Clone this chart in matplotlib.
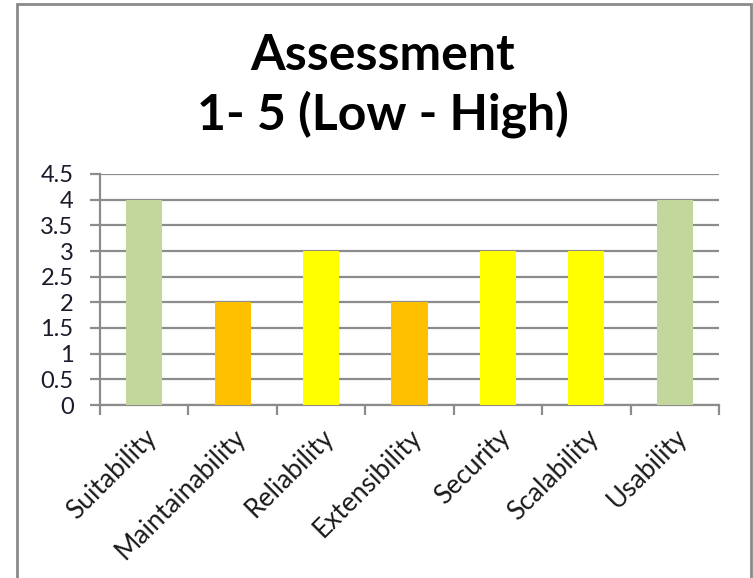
import numpy as np
import matplotlib.pyplot as plt
from matplotlib.patches import Rectangle

categories = ["Suitability", "Maintainability", "Reliability", "Extensibility",
              "Security", "Scalability", "Usability"]
scores = [4, 2, 3, 2, 3, 3, 4]
colors = ["#C3D69B", "#FFC000", "#FFFF00", "#FFC000", "#FFFF00", "#FFFF00", "#C3D69B"]
yticks = [0, 0.5, 1, 1.5, 2, 2.5, 3, 3.5, 4, 4.5]

plt.rcParams['font.family'] = ['Lato', 'DejaVu Sans']
grid_c = "#8c8c8c"

fig = plt.figure(figsize=(7.53, 5.78), dpi=100)
ax = fig.add_axes([100/753, 173/578, 619/753, 231/578])

x = np.arange(len(categories))
ax.bar(x, scores, width=0.41, color=colors, zorder=3)

ax.set_xlim(-0.5, len(categories) - 0.5)
ax.set_ylim(0, 4.5)
ax.set_yticks(yticks)
ax.set_yticklabels([f"{v:g}" for v in yticks], fontsize=17, color="#1a1a2a")
ax.yaxis.grid(True, color=grid_c, lw=1.6, zorder=0)
ax.tick_params(axis='y', length=7, width=1.6, color=grid_c, pad=12)

ax.set_xticks(x)
ax.set_xticklabels(categories, rotation=45, ha='right', rotation_mode='anchor',
                   fontsize=19, color="#1a1a1a")
ax.tick_params(axis='x', which='major', length=0, pad=14)
ax.set_xticks(np.arange(len(categories) + 1) - 0.5, minor=True)
ax.tick_params(axis='x', which='minor', length=7, width=1.6, color=grid_c)

for s in ["top", "right"]:
    ax.spines[s].set_visible(False)
for s in ["left", "bottom"]:
    ax.spines[s].set_color(grid_c)
    ax.spines[s].set_linewidth(1.6)

fig.text(383/753, 1 - 55/578, "Assessment", ha='center', va='center',
         fontsize=36, fontweight='bold')
fig.text(383/753, 1 - 114/578, "1- 5 (Low - High)", ha='center', va='center',
         fontsize=36, fontweight='bold')

fig.patches.append(Rectangle((17/753, -0.01), (751 - 17)/753, 1 - 4/578 + 0.01,
                             transform=fig.transFigure, fill=False,
                             edgecolor="#8a8a8a", lw=2))

fig.savefig("out.png", dpi=100)
